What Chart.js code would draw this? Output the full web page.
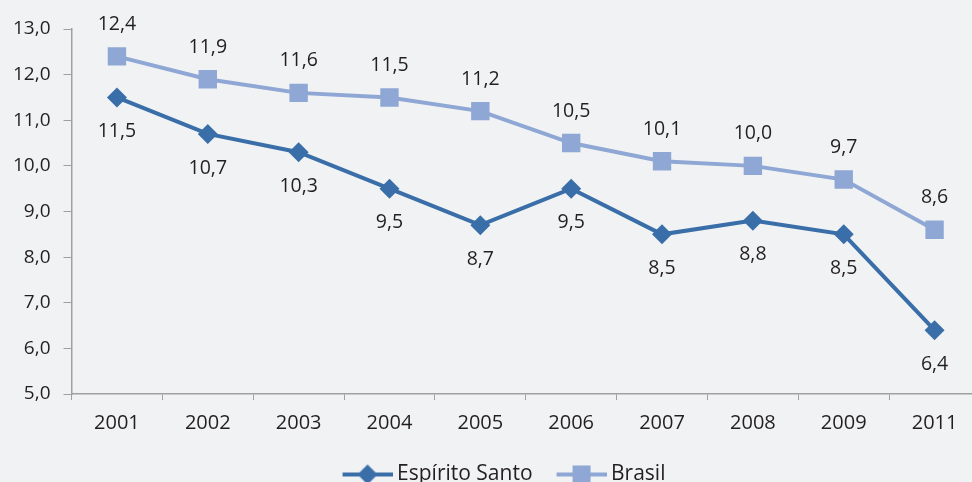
<!DOCTYPE html>
<html>
<head>
<meta charset="utf-8">
<script src="https://cdn.jsdelivr.net/npm/chart.js@4/dist/chart.umd.min.js"></script>
<style>
  html, body { margin: 0; padding: 0; background: #f1f2f4; overflow: hidden; }
  #wrap { position: relative; width: 1004px; height: 495px; }
</style>
</head>
<body>
<div id="wrap"><canvas id="c"></canvas></div>
<script>
const categories = ['2001','2002','2003','2004','2005','2006','2007','2008','2009','2011'];
const espiritoSanto = [11.5, 10.7, 10.3, 9.5, 8.7, 9.5, 8.5, 8.8, 8.5, 6.4];
const brasil = [12.4, 11.9, 11.6, 11.5, 11.2, 10.5, 10.1, 10.0, 9.7, 8.6];
const yTicks = [5,6,7,8,9,10,11,12,13];

const darkBlue = '#3a6ea8';
const lightBlue = '#8fa7d4';
const textColor = '#231f20';
const fontFamily = '"Open Sans", sans-serif';

function fmt(v) { return v.toFixed(1).replace('.', ','); }

function legendIcon(color, shape) {
  const c = document.createElement('canvas');
  c.width = 62; c.height = 22;
  const g = c.getContext('2d');
  g.strokeStyle = color; g.lineWidth = 4;
  g.beginPath(); g.moveTo(12, 11); g.lineTo(62, 11); g.stroke();
  g.fillStyle = color;
  g.beginPath();
  if (shape === 'diamond') {
    g.moveTo(37, 1); g.lineTo(47, 11); g.lineTo(37, 21); g.lineTo(27, 11);
  } else {
    g.rect(28, 2, 18, 18);
  }
  g.closePath(); g.fill();
  return c;
}
const icons = [legendIcon(darkBlue, 'diamond'), legendIcon(lightBlue, 'square')];

const dataLabels = {
  id: 'dataLabels',
  afterDatasetsDraw(chart) {
    const ctx = chart.ctx;
    ctx.save();
    ctx.font = '19.5px ' + fontFamily;
    ctx.fillStyle = textColor;
    ctx.textAlign = 'center';
    ctx.textBaseline = 'middle';
    chart.data.datasets.forEach((ds, i) => {
      const meta = chart.getDatasetMeta(i);
      meta.data.forEach((pt, j) => {
        const off = ds.labelPos === 'above' ? -32 : 34;
        ctx.fillText(fmt(ds.data[j]), pt.x, pt.y + off);
      });
    });
    ctx.restore();
  }
};

// shift the legend block slightly to the right to match the reference placement
const legendShift = {
  id: 'legendShift',
  afterLayout(chart) {
    const lg = chart.legend;
    if (lg) { lg.left += 11; lg.right += 11; }
  }
};

new Chart(document.getElementById('c'), {
  type: 'line',
  data: {
    labels: categories,
    datasets: [
      {
        label: 'Espírito Santo',
        data: espiritoSanto,
        borderColor: darkBlue,
        backgroundColor: darkBlue,
        borderWidth: 4,
        pointStyle: 'rectRot',
        pointRadius: 10,
        pointHoverRadius: 10,
        pointBorderWidth: 0,
        labelPos: 'below'
      },
      {
        label: 'Brasil',
        data: brasil,
        borderColor: lightBlue,
        backgroundColor: lightBlue,
        borderWidth: 4,
        pointStyle: 'rect',
        pointRadius: 13,
        pointHoverRadius: 13,
        pointBorderWidth: 0,
        labelPos: 'above'
      }
    ]
  },
  options: {
    responsive: true,
    maintainAspectRatio: false,
    animation: false,
    layout: { padding: { left: 0, right: 24, top: 29, bottom: 0 } },
    plugins: {
      tooltip: { enabled: false },
      legend: {
        position: 'bottom',
        labels: {
          usePointStyle: true,
          pointStyleWidth: 50,
          padding: 18,
          color: textColor,
          font: { family: fontFamily, size: 21 },
          generateLabels(chart) {
            const items = Chart.defaults.plugins.legend.labels.generateLabels(chart);
            items.forEach((it, i) => { it.pointStyle = icons[i]; });
            return items;
          }
        }
      }
    },
    scales: {
      x: {
        offset: true,
        grid: { display: true, drawOnChartArea: false, offset: true, color: '#a0a0a0', tickLength: 6 },
        border: { color: '#a0a0a0', width: 1.5 },
        ticks: { color: textColor, font: { family: fontFamily, size: 20 }, padding: 11, maxRotation: 0 }
      },
      y: {
        min: 5, max: 13,
        afterBuildTicks(scale) { scale.ticks = yTicks.map(v => ({ value: v })); },
        grid: { display: true, drawOnChartArea: false, color: '#a0a0a0', tickLength: 8 },
        border: { color: '#a0a0a0', width: 1.5 },
        ticks: { color: textColor, font: { family: fontFamily, size: 19 }, padding: 13, callback: v => fmt(v) }
      }
    }
  },
  plugins: [dataLabels, legendShift]
});
</script>
</body>
</html>
